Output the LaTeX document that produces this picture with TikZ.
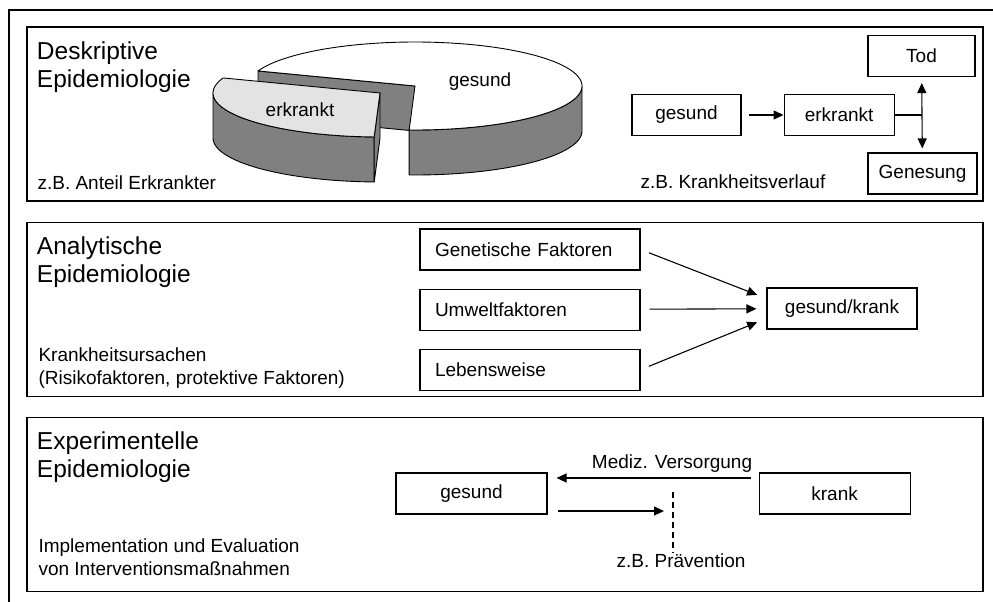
\documentclass[tikz,border=0pt]{standalone}
\usepackage{fontspec}
\setmainfont{Liberation Sans}
\usetikzlibrary{positioning,arrows.meta}
\definecolor{seite}{gray}{0.5}
\definecolor{hell}{gray}{0.89}
\newcommand{\grossschrift}{\fontsize{24.5}{28}\selectfont}
\newcommand{\normalschrift}{\fontsize{19}{23}\selectfont}

\tikzset{
  panel/.style={draw, line width=1.2pt, minimum width=956pt, minimum height=174pt, inner sep=0pt},
  kasten/.style={draw, line width=1.1pt, minimum height=41pt, inner sep=0pt},
  faktor/.style={kasten, text width=190pt, inner xsep=15pt, align=left},
  titel/.style={font=\grossschrift, align=left, inner sep=0pt, anchor=north west},
  notiz/.style={font=\normalschrift, align=left, inner sep=0pt},
  torte/.style={line width=0.9pt, line join=round},
}

\begin{document}
\begin{tikzpicture}[x=1pt, y=-1pt, font=\normalschrift, line width=1.1pt,
  >={Triangle[length=10pt,width=9pt]}]
\useasboundingbox (0,0) rectangle (993,602);
\draw[line width=1.3pt] (993,10) -- (9,10) -- (9,602);

% Panels
\node[panel] (p1) at (505,114) {};
\node[panel, below=20pt of p1] (p2) {};
\node[panel, below=20pt of p2] (p3) {};

% Deskriptive Epidemiologie
\node[titel] (t1) at ([xshift=10pt,yshift=-14.5pt]p1.north west) {Deskriptive\\Epidemiologie};
\node[notiz, anchor=base west] (n1) at (37,189) {z.B. Anteil Erkrankter};

% Torte
\filldraw[torte, fill=seite] (258,71) -- (415,86) -- (415,131) -- (258,116) -- cycle;
\filldraw[torte, fill=seite] plot[domain=0:92, samples=40] ({415+167*cos(\x)},{86+44*sin(\x)})
  -- plot[domain=92:0, samples=40] ({415+167*cos(\x)},{131+44*sin(\x)}) -- cycle;
\filldraw[torte, fill=white] (415,86) -- plot[domain=200:452, samples=120] ({415+167*cos(\x)},{86+44*sin(\x)}) -- cycle;
\filldraw[torte, fill=seite] plot[domain=92:180, samples=40] ({380+167*cos(\x)},{93+44*sin(\x)})
  -- plot[domain=180:92, samples=40] ({380+167*cos(\x)},{138+44*sin(\x)}) -- cycle;
\filldraw[torte, fill=seite] (380,93) -- (380,138) -- (374.2,182) -- (374.2,137) -- cycle;
\filldraw[torte, fill=hell] (380,93) -- plot[domain=92:200, samples=60] ({380+167*cos(\x)},{93+44*sin(\x)}) -- cycle;
\node (lgesund) at (480,82) {gesund};
\node (lerkrankt) at (300,110) {erkrankt};

% Krankheitsverlauf
\node[kasten, minimum width=109pt] (gesund1) at (686.5,115) {gesund};
\node[kasten, minimum width=110pt, right=42pt of gesund1] (erkrankt1) {erkrankt};
\node[kasten, minimum width=107pt] (tod) at (921.5,56) {Tod};
\node[kasten, minimum width=109pt] (genesung) at (922.5,173.5) {Genesung};
\node[notiz, anchor=base west] (n2) at (640,188) {z.B. Krankheitsverlauf};
\coordinate (gabel) at (erkrankt1 -| tod);
\draw[->, shorten <=7pt] (gesund1) -- (erkrankt1);
\draw (erkrankt1) -- (gabel);
\draw[<->, shorten <=6pt, shorten >=4pt] (tod) -- (genesung);

% Analytische Epidemiologie
\node[titel] (t2) at ([xshift=10pt,yshift=-14.5pt]p2.north west) {Analytische\\Epidemiologie};
\node[notiz, anchor=north west] (n3) at (38,347) {Krankheitsursachen\\(Risikofaktoren, protektive Faktoren)};
\node[faktor] (gen) at (530,249.5) {Genetische Faktoren};
\node[faktor, below=18pt of gen] (umw) {Umweltfaktoren};
\node[faktor, below=18pt of umw] (leb) {Lebensweise};
\node[kasten, minimum width=150pt] (gk) at (842,308.5) {gesund/krank};
\draw[->, shorten <=9pt, shorten >=10pt] (gen.east) -- ([yshift=10pt]gk.west);
\draw[->, shorten <=9pt, shorten >=10pt] (umw) -- (gk);
\draw[->, shorten <=9pt, shorten >=10pt] (leb.east) -- ([yshift=-10pt]gk.west);

% Experimentelle Epidemiologie
\node[titel] (t3) at ([xshift=10pt,yshift=-14.5pt]p3.north west) {Experimentelle\\Epidemiologie};
\node[notiz, anchor=north west] (n4) at (38,538) {Implementation und Evaluation\\von Interventionsmaßnahmen};
\node[kasten, minimum width=151pt] (gesund3) at (471.5,493.5) {gesund};
\node[kasten, minimum width=151pt, right=211pt of gesund3] (krank) {krank};
\coordinate (praeoben) at (673,492);
\node[notiz] (praevention) at (681,561) {z.B. Prävention};
\draw[->, shorten <=8pt, shorten >=9pt] ([yshift=15.5pt]krank.west) -- ([yshift=15.5pt]gesund3.east)
  node[above=2pt, pos=0.41] (mediz) {Mediz. Versorgung};
\draw[->, shorten <=10pt, shorten >=9pt] ([yshift=-17.5pt]gesund3.east) -- ([yshift=-17.5pt]gesund3.east -| praeoben);
\draw[dashed, dash pattern=on 6pt off 4pt] (praeoben) -- (praeoben |- praevention.north);
\end{tikzpicture}
\end{document}
